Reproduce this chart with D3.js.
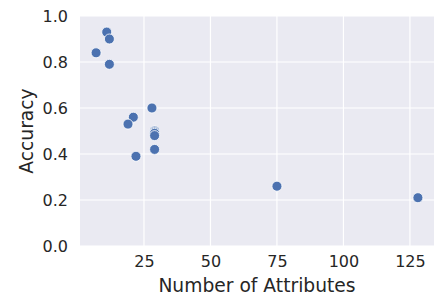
<!DOCTYPE html>
<html><head><meta charset="utf-8">
<script src="https://cdn.jsdelivr.net/npm/d3@7"></script>
<style>body{margin:0;background:#fff}svg{display:block}</style>
</head><body><svg id="c" width="440" height="297"></svg>
<script>
const attributes = [11, 12, 7, 12, 28, 21, 19, 29, 29, 29, 29, 29, 22, 75, 128];
const accuracy   = [0.93, 0.90, 0.84, 0.79, 0.60, 0.56, 0.53, 0.50, 0.495, 0.49, 0.48, 0.42, 0.39, 0.26, 0.21];
const xTicks = [25, 50, 75, 100, 125];
const yTicks = [0.0, 0.2, 0.4, 0.6, 0.8, 1.0];

const svg = d3.select("#c");
const L = 80, R = 434, T = 16, B = 246;
const xmin = d3.min(attributes), xmax = d3.max(attributes), pad = (xmax - xmin) * 0.05;
const x = d3.scaleLinear().domain([xmin - pad, xmax + pad]).range([L, R]);
const y = d3.scaleLinear().domain([0, 1]).range([B, T]);
const font = "DejaVu Sans, sans-serif", tc = "#262626";

svg.append("rect").attr("x", L).attr("y", T).attr("width", R - L).attr("height", B - T).attr("fill", "#EAEAF2");

const g = svg.append("g");
g.selectAll(".gx").data(xTicks).join("line")
  .attr("x1", d => x(d)).attr("x2", d => x(d)).attr("y1", T).attr("y2", B)
  .attr("stroke", "#fff").attr("stroke-width", 1.2);
g.selectAll(".gy").data(yTicks).join("line")
  .attr("y1", d => y(d)).attr("y2", d => y(d)).attr("x1", L).attr("x2", R)
  .attr("stroke", "#fff").attr("stroke-width", 1.2);

const xAxis = svg.append("g").attr("transform", `translate(0,${B})`)
  .call(d3.axisBottom(x).tickValues(xTicks).tickSize(0).tickPadding(10).tickFormat(d3.format("d")));
xAxis.select(".domain").remove();
xAxis.selectAll("text").attr("font-family", font).attr("font-size", 16).attr("fill", tc);

const yAxis = svg.append("g").attr("transform", `translate(${L},0)`)
  .call(d3.axisLeft(y).tickValues(yTicks).tickSize(0).tickPadding(12).tickFormat(d3.format(".1f")));
yAxis.select(".domain").remove();
yAxis.selectAll("text").attr("font-family", font).attr("font-size", 16).attr("fill", tc);

svg.append("g").selectAll("circle").data(attributes.map((a, i) => [a, accuracy[i]])).join("circle")
  .attr("cx", d => x(d[0])).attr("cy", d => y(d[1])).attr("r", 5)
  .attr("fill", "#4C72B0").attr("stroke", "#fff").attr("stroke-width", 0.8);

svg.append("text").attr("x", (L + R) / 2).attr("y", 292).attr("text-anchor", "middle")
  .attr("font-family", font).attr("font-size", 18.7).attr("fill", tc).text("Number of Attributes");
svg.append("text").attr("transform", `translate(33,${(T + B) / 2}) rotate(-90)`).attr("text-anchor", "middle")
  .attr("font-family", font).attr("font-size", 18.7).attr("fill", tc).text("Accuracy");
</script></body></html>
